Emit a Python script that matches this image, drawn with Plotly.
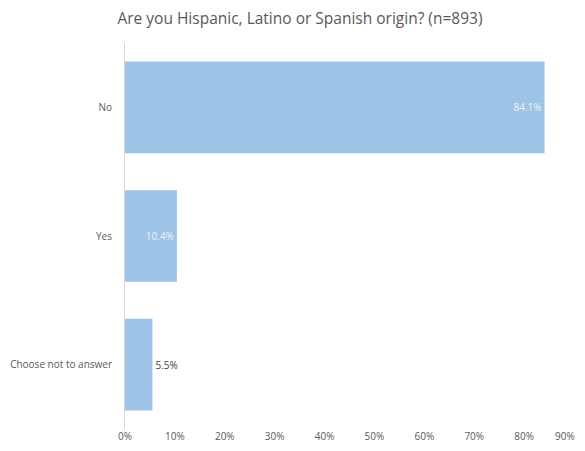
import plotly.graph_objects as go

categories = ["No", "Yes", "Choose not to answer"]
values = [0.841, 0.104, 0.055]
labels = ["84.1%", "10.4%", "5.5%"]
tick_vals = [0, 0.1, 0.2, 0.3, 0.4, 0.5, 0.6, 0.7, 0.8, 0.9]
tick_text = ["0%", "10%", "20%", "30%", "40%", "50%", "60%", "70%", "80%", "90%"]

fig = go.Figure(go.Bar(
    x=values, y=categories, orientation="h",
    marker=dict(color="#9dc3e6", line=dict(width=0)),
    text=labels,
    textposition=["inside", "inside", "outside"],
    insidetextanchor="end",
    textfont=dict(family="Open Sans, Liberation Sans, sans-serif", size=10),
    insidetextfont=dict(color="#f2f2f2"),
    outsidetextfont=dict(color="#404040"),
    cliponaxis=False,
))

# page body adds an 8px offset; figure sized to fit the window without scrolling
fig.update_layout(
    width=577, height=435,
    margin=dict(l=117, r=11, t=35, b=14, autoexpand=False),
    paper_bgcolor="white", plot_bgcolor="white",
    bargap=0.287,
    showlegend=False,
    title=dict(text="Are you Hispanic, Latino or Spanish origin? (n=893)",
               x=0.506, xanchor="center", y=1 - 11 / 435, yanchor="middle",
               font=dict(family="Open Sans, Liberation Sans, sans-serif", size=15.5, color="#595959")),
    font=dict(family="Open Sans, Liberation Sans, sans-serif", size=10, color="#595959"),
)
# last tick label drawn as an annotation so it stays inside the visible window
fig.add_annotation(x=tick_vals[-1], xref="x", y=0, yref="paper",
                   text=tick_text[-1], showarrow=False,
                   xanchor="right", yanchor="middle", xshift=3, yshift=-7,
                   font=dict(size=10, color="#595959"))
fig.update_xaxes(range=[0, 0.9], tickvals=tick_vals[:-1], ticktext=tick_text[:-1], automargin=False,
                 showgrid=False, zeroline=False, showline=False,
                 ticks="",
                 tickfont=dict(size=10, color="#595959"))
fig.update_yaxes(categoryorder="array", categoryarray=categories, autorange="reversed",
                 automargin=False,
                 showgrid=False, showline=True, linecolor="#d9d9d9", linewidth=1,
                 ticks="outside", ticklen=10, tickcolor="rgba(0,0,0,0)",
                 tickfont=dict(size=10, color="#595959"))

fig.write_html("out.html")
